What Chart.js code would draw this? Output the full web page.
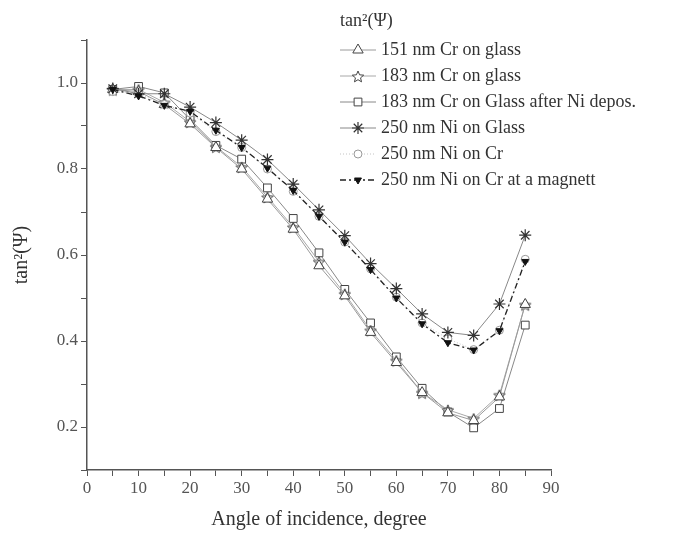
<!DOCTYPE html>
<html>
<head>
<meta charset="utf-8">
<script src="https://cdn.jsdelivr.net/npm/chart.js@4.4.0/dist/chart.umd.min.js"></script>
<style>
  html, body { margin: 0; padding: 0; background: #fff; }
  #wrap { width: 680px; height: 536px; }
</style>
</head>
<body>
<div id="wrap"><canvas id="tanChart"></canvas></div>
<script>
// Data
const angles = [5, 10, 15, 20, 25, 30, 35, 40, 45, 50, 55, 60, 65, 70, 75, 80, 85];
const cr151Glass = [0.985, 0.98, 0.95, 0.905, 0.85, 0.80, 0.73, 0.66, 0.575, 0.505, 0.42, 0.35, 0.28, 0.233, 0.215, 0.27, 0.485];
const cr183Glass = [0.985, 0.985, 0.955, 0.91, 0.852, 0.805, 0.735, 0.665, 0.585, 0.51, 0.425, 0.355, 0.28, 0.24, 0.22, 0.275, 0.485];
const cr183AfterNi = [0.985, 0.992, 0.977, 0.915, 0.855, 0.823, 0.756, 0.685, 0.605, 0.52, 0.442, 0.363, 0.29, 0.235, 0.198, 0.243, 0.437];
const ni250Glass = [0.987, 0.975, 0.975, 0.944, 0.908, 0.867, 0.822, 0.765, 0.705, 0.645, 0.58, 0.522, 0.463, 0.42, 0.413, 0.486, 0.646];
const ni250Cr = [0.98, 0.975, 0.95, 0.93, 0.887, 0.85, 0.80, 0.748, 0.69, 0.63, 0.568, 0.502, 0.442, 0.405, 0.38, 0.425, 0.59];
const ni250CrMagnet = [0.985, 0.97, 0.948, 0.934, 0.89, 0.85, 0.802, 0.75, 0.69, 0.63, 0.566, 0.50, 0.44, 0.396, 0.379, 0.424, 0.585];
const xTicks = [0, 10, 20, 30, 40, 50, 60, 70, 80, 90];
const yTicks = [0.2, 0.4, 0.6, 0.8, 1.0];

const serif = "'Liberation Serif', 'DejaVu Serif', serif";

// hollow five-point star marker
function makeStar(r) {
    const c = document.createElement('canvas');
    const s = r * 2 + 4;
    c.width = s; c.height = s;
    const g = c.getContext('2d');
    g.beginPath();
    for (let i = 0; i < 10; i++) {
        const rad = i % 2 === 0 ? r : r * 0.45;
        const a = -Math.PI / 2 + i * Math.PI / 5;
        const px = s / 2 + rad * Math.cos(a);
        const py = s / 2 + 1 + rad * Math.sin(a);
        if (i === 0) g.moveTo(px, py); else g.lineTo(px, py);
    }
    g.closePath();
    g.fillStyle = '#fff';
    g.fill();
    g.strokeStyle = '#444';
    g.lineWidth = 1;
    g.stroke();
    return c;
}
const starImg = makeStar(6);

function pts(values) {
    return angles.map((a, i) => ({ x: a, y: values[i] }));
}

// lower "order" is drawn on top
const datasets = [
    {
        label: '151 nm Cr on glass',
        data: pts(cr151Glass), order: 3,
        borderColor: '#9a9a9a', borderWidth: 1,
        pointStyle: 'triangle', pointRadius: 6,
        pointBorderColor: '#444', pointBackgroundColor: '#fff', pointBorderWidth: 1
    },
    {
        label: '183 nm Cr on glass',
        data: pts(cr183Glass), order: 3,
        borderColor: '#a8a8a8', borderWidth: 1,
        pointStyle: starImg, pointRadius: 6,
        pointBorderColor: '#444', pointBackgroundColor: '#fff', pointBorderWidth: 1
    },
    {
        label: '183 nm Cr on Glass after Ni depos.',
        data: pts(cr183AfterNi), order: 3,
        borderColor: '#888', borderWidth: 1,
        pointStyle: 'rect', pointRadius: 5.5,
        pointBorderColor: '#444', pointBackgroundColor: '#fff', pointBorderWidth: 1
    },
    {
        label: '250 nm Ni on Glass',
        data: pts(ni250Glass), order: 1,
        borderColor: '#888', borderWidth: 1,
        pointStyle: 'star', pointRadius: 6,
        pointBorderColor: '#333', pointBackgroundColor: '#333', pointBorderWidth: 1.2
    },
    {
        label: '250 nm Ni on Cr',
        data: pts(ni250Cr), order: 2,
        borderColor: '#c4c4c4', borderWidth: 1, borderDash: [1, 2],
        pointStyle: 'circle', pointRadius: 4,
        pointBorderColor: '#999', pointBackgroundColor: '#fff', pointBorderWidth: 1
    },
    {
        label: '250 nm Ni on Cr at a magnett',
        data: pts(ni250CrMagnet), order: 0,
        borderColor: '#222', borderWidth: 1.3, borderDash: [6, 3, 2, 3],
        pointStyle: 'triangle', pointRotation: 180, pointRadius: 4,
        pointBorderColor: '#111', pointBackgroundColor: '#111', pointBorderWidth: 1
    }
];

// legend drawn as line + marker + text, like the original
const sampleLegend = {
    id: 'sampleLegend',
    afterDraw(chart) {
        const ctx = chart.ctx;
        const x0 = 340, x1 = 376, tx = 381;
        ctx.save();
        ctx.font = '18px ' + serif;
        ctx.fillStyle = '#333';
        ctx.textBaseline = 'middle';
        ctx.fillText('tan\u00B2(\u03A8)', x0, 21);
        datasets.forEach((ds, i) => {
            const y = 50 + i * 26;
            ctx.strokeStyle = ds.borderColor;
            ctx.lineWidth = ds.borderWidth;
            ctx.setLineDash(ds.borderDash || []);
            ctx.beginPath();
            ctx.moveTo(x0, y);
            ctx.lineTo(x1, y);
            ctx.stroke();
            ctx.setLineDash([]);
            ctx.fillStyle = ds.pointBackgroundColor;
            ctx.strokeStyle = ds.pointBorderColor;
            ctx.lineWidth = ds.pointBorderWidth;
            Chart.helpers.drawPoint(ctx, {
                pointStyle: ds.pointStyle,
                rotation: ds.pointRotation || 0,
                radius: ds.pointRadius,
                borderWidth: ds.pointBorderWidth
            }, (x0 + x1) / 2, y);
            ctx.fillStyle = '#333';
            ctx.fillText(ds.label, tx, y);
        });
        ctx.restore();
    }
};

const ctx = document.getElementById('tanChart').getContext('2d');

const tanChart = new Chart(ctx, {
    type: 'line',
    data: { datasets: datasets },
    options: {
        responsive: true,
        maintainAspectRatio: false,
        animation: false,
        layout: { padding: { left: 6, right: 129, top: 40, bottom: 0 } },
        scales: {
            x: {
                type: 'linear',
                min: 0, max: 90,
                border: { color: '#555', width: 1.5 },
                grid: { drawOnChartArea: false, drawTicks: true, tickLength: 6, color: '#555' },
                ticks: {
                    stepSize: 5, autoSkip: false, maxRotation: 0, padding: 2,
                    color: '#555', font: { family: serif, size: 17 },
                    callback: v => xTicks.includes(v) ? String(v) : ''
                },
                title: {
                    display: true, text: 'Angle of incidence, degree',
                    color: '#333', font: { family: serif, size: 20 }, padding: { top: 2 }
                },
                afterFit: s => { s.height = 66; }
            },
            y: {
                type: 'linear',
                min: 0.1, max: 1.1,
                border: { color: '#555', width: 1.5 },
                grid: { drawOnChartArea: false, drawTicks: true, tickLength: 6, color: '#555' },
                ticks: {
                    stepSize: 0.1, autoSkip: false, padding: 3,
                    color: '#555', font: { family: serif, size: 17 },
                    callback: v => yTicks.some(t => Math.abs(t - v) < 1e-6) ? v.toFixed(1) : ''
                },
                title: {
                    display: true, text: 'tan\u00B2(\u03A8)',
                    color: '#333', font: { family: serif, size: 20 }, padding: { bottom: 4 }
                },
                afterFit: s => { s.width = 81; }
            }
        },
        plugins: {
            legend: { display: false },
            tooltip: { enabled: false }
        }
    },
    plugins: [sampleLegend]
});
</script>
</body>
</html>
